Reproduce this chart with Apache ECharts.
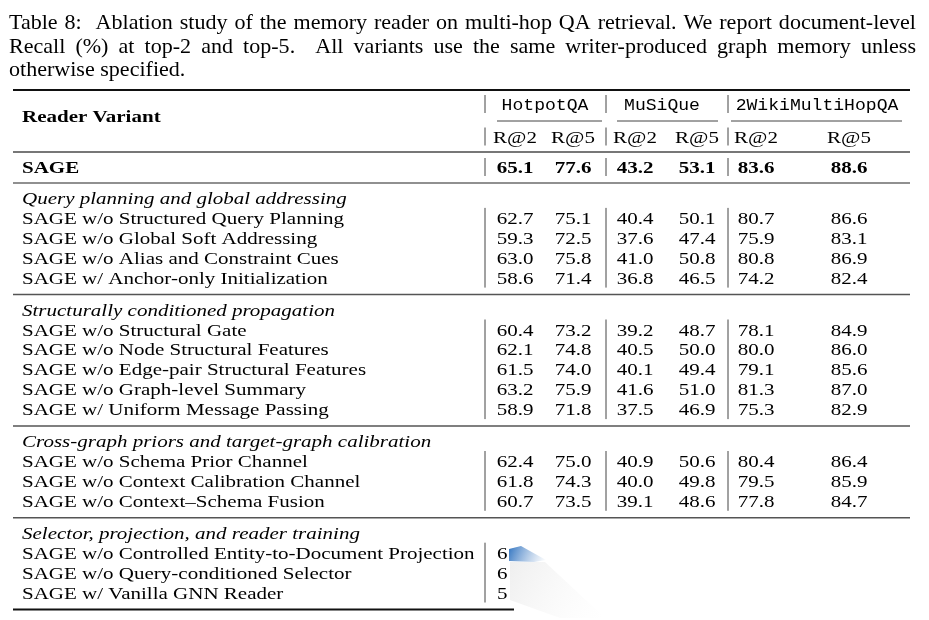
<!DOCTYPE html>
<html><head><meta charset="utf-8">
<script src="https://cdn.jsdelivr.net/npm/echarts@6/dist/echarts.min.js"></script>
<style>html,body{margin:0;padding:0;background:#fff}#c{width:929px;height:620px}</style>
</head><body><div id="c"></div><script>
// ---------- data ----------
const captionLines = [
  'Table 8:  Ablation study of the memory reader on multi-hop QA retrieval. We report document-level',
  'Recall (%) at top-2 and top-5.  All variants use the same writer-produced graph memory unless',
  'otherwise specified.'
];
const datasets = ['HotpotQA', 'MuSiQue', '2WikiMultiHopQA'];
const metrics = ['R@2', 'R@5'];
const headerLabel = 'Reader Variant';
const fullLabel = 'SAGE';
const fullValues = [65.1, 77.6, 43.2, 53.1, 83.6, 88.6];
const sectionTitles = [
  'Query planning and global addressing',
  'Structurally conditioned propagation',
  'Cross-graph priors and target-graph calibration',
  'Selector, projection, and reader training'
];
const sec1Labels = [
  'SAGE w/o Structured Query Planning',
  'SAGE w/o Global Soft Addressing',
  'SAGE w/o Alias and Constraint Cues',
  'SAGE w/ Anchor-only Initialization'
];
const sec1Values = [
  [62.7, 75.1, 40.4, 50.1, 80.7, 86.6],
  [59.3, 72.5, 37.6, 47.4, 75.9, 83.1],
  [63.0, 75.8, 41.0, 50.8, 80.8, 86.9],
  [58.6, 71.4, 36.8, 46.5, 74.2, 82.4]
];
const sec2Labels = [
  'SAGE w/o Structural Gate',
  'SAGE w/o Node Structural Features',
  'SAGE w/o Edge-pair Structural Features',
  'SAGE w/o Graph-level Summary',
  'SAGE w/ Uniform Message Passing'
];
const sec2Values = [
  [60.4, 73.2, 39.2, 48.7, 78.1, 84.9],
  [62.1, 74.8, 40.5, 50.0, 80.0, 86.0],
  [61.5, 74.0, 40.1, 49.4, 79.1, 85.6],
  [63.2, 75.9, 41.6, 51.0, 81.3, 87.0],
  [58.9, 71.8, 37.5, 46.9, 75.3, 82.9]
];
const sec3Labels = [
  'SAGE w/o Schema Prior Channel',
  'SAGE w/o Context Calibration Channel',
  'SAGE w/o Context\u2013Schema Fusion'
];
const sec3Values = [
  [62.4, 75.0, 40.9, 50.6, 80.4, 86.4],
  [61.8, 74.3, 40.0, 49.8, 79.5, 85.9],
  [60.7, 73.5, 39.1, 48.6, 77.8, 84.7]
];
const sec4Labels = [
  'SAGE w/o Controlled Entity-to-Document Projection',
  'SAGE w/o Query-conditioned Selector',
  'SAGE w/ Vanilla GNN Reader'
];
// only the leading digit of these cells is legible in the source (rest is obscured)
const sec4Visible = ['6', '6', '5'];

// ---------- layout / style ----------
const SERIF = '"Liberation Serif", "Times New Roman", serif';
const MONO = '"Liberation Mono", "DejaVu Sans Mono", monospace';
const FS = 17.5, SX = 1.2;          // table font size and horizontal stretch
const CAP_FS = 21, CAP_SX = 1.05;   // caption font
const TDY = 1.5;                    // vertical nudge of text baselines
const L = {
  labelX: 22, ruleX0: 13, ruleX1: 910,
  pipes: [485, 606, 728],
  colX: [515, 573, 635, 697, 756, 849],
  dsX: [545, 662, 817],
  cmid: [[497, 602], [617, 718], [731, 902]],
  yTop: 90, yHead1: 104, yCmid: 121, yHead2: 136.5, yMid: 152, ySage: 167, yRule: 183,
  yLabelHead: 116,
  firstSec: 198, pitch: 19.9, secGap: 32, ruleAfter: 17,
  partialX: 497, bottomRuleEnd: 514,
  capX0: 9, capX1: 916, capY: [22, 45.5, 68.5]
};

// ---------- build cells ----------
const cells = [];
function txt(x, y, text, font, align, sx) { cells.push({kind: 'text', x, y: y + TDY, text, font, align: align || 'left', sx: sx || SX}); }
function line(x1, y1, x2, y2, w, color) { cells.push({kind: 'line', x1, y1, x2, y2, w, color}); }

// rules
line(L.ruleX0, L.yTop, L.ruleX1, L.yTop, 2, '#111');
L.cmid.forEach(c => line(c[0], L.yCmid, c[1], L.yCmid, 1, '#444'));
line(L.ruleX0, L.yMid, L.ruleX1, L.yMid, 2, '#777');
line(L.ruleX0, L.yRule, L.ruleX1, L.yRule, 1.2, '#222');

// header
txt(L.labelX, L.yLabelHead, headerLabel, 'bold ' + FS + 'px ' + SERIF);
datasets.forEach((d, i) => txt(L.dsX[i], L.yHead1, d, '16px ' + MONO, 'center', 1.13));
datasets.forEach((d, i) => metrics.forEach((m, j) => txt(L.colX[i * 2 + j], L.yHead2, m, FS + 'px ' + SERIF, 'center')));
[L.yHead1, L.yHead2, L.ySage].forEach(y => L.pipes.forEach(px => line(px, y - 9, px, y + 9, 1, '#444')));

// full model
txt(L.labelX, L.ySage, fullLabel, 'bold ' + FS + 'px ' + SERIF);
fullValues.forEach((v, k) => txt(L.colX[k], L.ySage, v.toFixed(1), 'bold ' + FS + 'px ' + SERIF, 'center'));

// sections
const sections = [
  {labels: sec1Labels, values: sec1Values},
  {labels: sec2Labels, values: sec2Values},
  {labels: sec3Labels, values: sec3Values},
  {labels: sec4Labels, partial: sec4Visible}
];
let y = L.firstSec;
sections.forEach((s, si) => {
  txt(L.labelX, y, sectionTitles[si], 'italic ' + FS + 'px ' + SERIF);
  const first = y + L.pitch;
  s.labels.forEach((lab, r) => {
    const ry = first + r * L.pitch;
    txt(L.labelX, ry, lab, FS + 'px ' + SERIF);
    if (s.values) s.values[r].forEach((v, k) => txt(L.colX[k], ry, v.toFixed(1), FS + 'px ' + SERIF, 'center'));
    else txt(L.partialX, ry, s.partial[r], FS + 'px ' + SERIF, 'left');
  });
  const last = first + (s.labels.length - 1) * L.pitch;
  const pipes = s.values ? L.pipes : [L.pipes[0]];
  pipes.forEach(px => line(px, first - 10, px, last + 10, 1, '#444'));
  const ry = last + L.ruleAfter;
  if (si < sections.length - 1) line(L.ruleX0, ry, L.ruleX1, ry, 1.5, '#555');
  else line(L.ruleX0, ry, L.bottomRuleEnd, ry, 2, '#111');
  y = last + L.secGap;
});

// ---------- caption (justified) ----------
const ctx = document.createElement('canvas').getContext('2d');
const capFont = CAP_FS + 'px ' + SERIF;
ctx.font = capFont;
const graphics = [];
captionLines.forEach((ln, li) => {
  const toks = ln.split(/( +)/);
  const words = [], gaps = [];
  toks.forEach((t, i) => { if (i % 2 === 0) words.push(t); else gaps.push(t.length); });
  const ww = words.map(w => ctx.measureText(w).width * CAP_SX);
  const sp = ctx.measureText(' ').width * CAP_SX;
  const natural = ww.reduce((a, b) => a + b, 0) + gaps.reduce((a, b) => a + b * sp, 0);
  const justify = li < captionLines.length - 1;
  const totalWeight = gaps.reduce((a, b) => a + b, 0);
  const extra = justify ? (L.capX1 - L.capX0 - natural) / Math.max(1, totalWeight) : 0;
  let x = L.capX0;
  words.forEach((w, i) => {
    graphics.push({type: 'text', x: x, y: L.capY[li] + TDY, scaleX: CAP_SX, silent: true,
      style: {text: w, font: capFont, fill: '#000', verticalAlign: 'middle'}});
    x += ww[i];
    if (i < gaps.length) x += gaps[i] * (sp + extra);
  });
});
// obscuring smear at lower right of source image
graphics.push({type: 'polygon', silent: true,
  shape: {points: [[509, 549], [521, 546], [546, 560], [534, 562], [509, 561]]},
  style: {fill: {type: 'linear', x: 0, y: 0, x2: 1, y2: 1, colorStops: [
    {offset: 0, color: 'rgba(40,110,190,0.95)'}, {offset: 1, color: 'rgba(120,160,210,0)'}]}}});
graphics.push({type: 'polygon', silent: true,
  shape: {points: [[510, 562], [545, 562], [605, 618], [560, 618], [510, 600]]},
  style: {fill: {type: 'linear', x: 0, y: 0, x2: 1, y2: 1, colorStops: [
    {offset: 0, color: 'rgba(180,180,180,0.22)'}, {offset: 1, color: 'rgba(230,230,230,0)'}]}}});

// ---------- chart ----------
const chart = echarts.init(document.getElementById('c'), null, {renderer: 'canvas'});
chart.setOption({
  animation: false,
  backgroundColor: '#fff',
  grid: {left: 0, right: 0, top: 0, bottom: 0},
  xAxis: {type: 'value', min: 0, max: 929, show: false},
  yAxis: {type: 'value', min: 0, max: 620, inverse: true, show: false},
  graphic: graphics,
  series: [{
    type: 'custom',
    clip: false,
    silent: true,
    data: cells.map((c, i) => [c.kind === 'text' ? c.x : c.x1, c.kind === 'text' ? c.y : c.y1, i]),
    renderItem: function (params, api) {
      const c = cells[params.dataIndex];
      if (c.kind === 'text') {
        const p = api.coord([c.x, c.y]);
        return {type: 'text', x: p[0], y: p[1], scaleX: c.sx,
          style: {text: c.text, x: 0, y: 0, font: c.font, fill: '#000', align: c.align, verticalAlign: 'middle'}};
      }
      const a = api.coord([c.x1, c.y1]), b = api.coord([c.x2, c.y2]);
      return {type: 'line', shape: {x1: a[0], y1: a[1], x2: b[0], y2: b[1]},
        style: {stroke: c.color, lineWidth: c.w}};
    }
  }]
});
</script></body></html>
